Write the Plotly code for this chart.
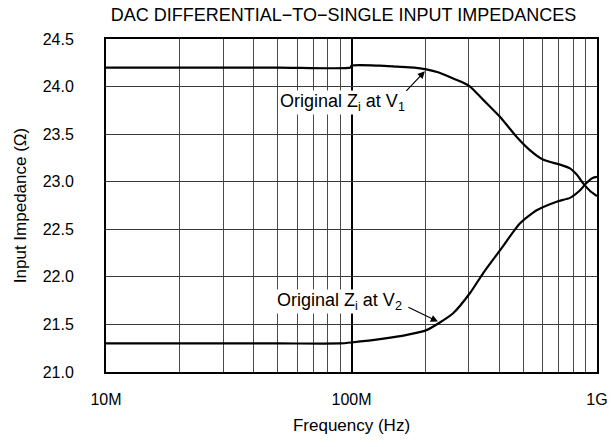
import plotly.graph_objects as go

# Frequencies (Hz) and impedances (Ohm)
freq_v1 = [1e7, 5e7, 9.9e7, 1.0e8, 1.3e8, 1.53e8, 1.8e8, 2.02e8, 2.25e8, 2.52e8, 2.8e8, 3.04e8,
           3.44e8, 4.03e8, 4.71e8, 5.34e8, 6.05e8, 7.07e8, 7.76e8, 8.3e8, 8.8e8, 9.4e8, 1e9]
z_v1 = [24.20, 24.20, 24.20, 24.22, 24.22, 24.21, 24.20, 24.18, 24.15, 24.10, 24.05, 24.00,
        23.86, 23.68, 23.47, 23.33, 23.23, 23.18, 23.14, 23.07, 22.98, 22.90, 22.85]

freq_v2 = [1e7, 5e7, 9.0e7, 1.0e8, 1.35e8, 1.68e8, 2.02e8, 2.29e8, 2.6e8, 3.04e8, 3.44e8,
           4.03e8, 4.85e8, 5.68e8, 6.85e8, 7.76e8, 8.53e8, 9.08e8, 9.6e8, 1e9]
z_v2 = [21.30, 21.30, 21.30, 21.31, 21.35, 21.39, 21.44, 21.52, 21.62, 21.83, 22.04,
        22.28, 22.56, 22.70, 22.79, 22.83, 22.91, 22.99, 23.04, 23.05]

x_tickvals = [1e7, 1e8, 1e9]
x_ticktext = ["10M", "100M", "1G"]
x_minor = [m * d for d in (1e7, 1e8) for m in range(2, 10)]
y_tickvals = [21.0, 21.5, 22.0, 22.5, 23.0, 23.5, 24.0, 24.5]

FONT = "Liberation Sans, Arial, sans-serif"

fig = go.Figure()
fig.add_trace(go.Scatter(x=freq_v1, y=z_v1, mode="lines",
                         line=dict(color="black", width=2.2, shape="spline", smoothing=0.6),
                         showlegend=False, hoverinfo="skip"))
fig.add_trace(go.Scatter(x=freq_v2, y=z_v2, mode="lines",
                         line=dict(color="black", width=2.2, shape="spline", smoothing=0.6),
                         showlegend=False, hoverinfo="skip"))

tick_font = dict(family=FONT, size=16, color="black")
fig.update_layout(
    width=613, height=447,
    margin=dict(l=106, r=16, t=39, b=75, autoexpand=False),
    paper_bgcolor="white", plot_bgcolor="white",
    font=dict(family=FONT, size=16, color="black"),
    title=dict(text="DAC DIFFERENTIAL\u2212TO\u2212SINGLE INPUT IMPEDANCES",
               x=343.5/613, xanchor="center", xref="container",
               y=1-15/447, yanchor="middle", yref="container",
               font=dict(family=FONT, size=18, color="black")),
    xaxis=dict(type="log", range=[7, 9], tickvals=x_tickvals, ticktext=x_ticktext,
               tickfont=tick_font, automargin=False,
               showgrid=True, gridcolor="black", gridwidth=2,
               minor=dict(tickvals=x_minor, showgrid=True, gridcolor="#4a4a4a", gridwidth=1,
                          ticks=""),
               showline=True, linecolor="black", linewidth=2, mirror=True,
               ticks="", ticklabelstandoff=12, zeroline=False,
               title=dict(text="Frequency (Hz)", standoff=12,
                          font=dict(family=FONT, size=17))),
    yaxis=dict(range=[21.0, 24.5], tickvals=y_tickvals, tickformat=".1f",
               tickfont=tick_font, automargin=False,
               showgrid=True, gridcolor="#3a3a3a", gridwidth=1,
               showline=True, linecolor="black", linewidth=2, mirror=True,
               ticks="", ticklabelstandoff=27, zeroline=False,
               title=dict(text="Input Impedance (\u03a9)", standoff=12,
                          font=dict(family=FONT, size=17))),
)

ann_font = dict(family=FONT, size=18, color="black")
fig.add_annotation(x=7.965, y=23.83, xref="x", yref="y",
                   text="Original Z<sub>i</sub> at V<sub>1</sub>",
                   showarrow=False, bgcolor="white", font=ann_font, borderpad=0)
fig.add_annotation(x=7.953, y=21.736, xref="x", yref="y",
                   text="Original Z<sub>i</sub> at V<sub>2</sub>",
                   showarrow=False, bgcolor="white", font=ann_font, borderpad=0)
fig.add_annotation(x=8.299, y=24.16, xref="x", yref="y", text="",
                   showarrow=True, arrowhead=2, arrowsize=1.2, arrowwidth=1.2,
                   arrowcolor="black", ax=-20, ay=21, standoff=0)
fig.add_annotation(x=8.352, y=21.53, xref="x", yref="y", text="",
                   showarrow=True, arrowhead=2, arrowsize=1.2, arrowwidth=1.2,
                   arrowcolor="black", ax=-31, ay=-15, standoff=0)

fig.write_html("out.html", config={"displayModeBar": False},
               post_script="document.body.style.margin='0';document.body.style.overflow='hidden';")
